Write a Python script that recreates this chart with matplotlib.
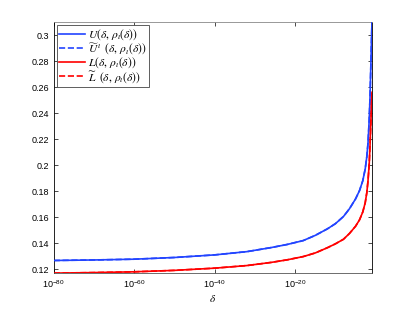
import numpy as np
from matplotlib import pyplot as plt

# -log10(delta) sample positions
neg_log_delta = [80, 70, 60, 50, 40, 32, 26, 22, 18, 15, 12, 10, 8, 6.5, 5,
                 4, 3.2, 2.6, 2.2, 1.9, 1.6, 1.4, 1.2, 1.05, 0.92]
upper = [0.1267, 0.1271, 0.1277, 0.1290, 0.1310, 0.1335, 0.1366, 0.1390,
         0.1420, 0.1460, 0.1510, 0.1550, 0.1605, 0.1665, 0.1740, 0.1805,
         0.1880, 0.1970, 0.2064, 0.2170, 0.2350, 0.2523, 0.2760, 0.2940,
         0.3100]
lower = [0.1170, 0.1174, 0.1180, 0.1191, 0.1208, 0.1228, 0.1252, 0.1272,
         0.1297, 0.1325, 0.1365, 0.1395, 0.1430, 0.1475, 0.1530, 0.1580,
         0.1640, 0.1710, 0.1788, 0.1880, 0.2010, 0.2150, 0.2320, 0.2450,
         0.2560]

y_ticks = [0.12, 0.14, 0.16, 0.18, 0.2, 0.22, 0.24, 0.26, 0.28, 0.3]
x_ticks = [1e-80, 1e-60, 1e-40, 1e-20]

labels = [r'$U(\delta,\,\rho_\iota(\delta))$',
          r'$\widetilde{U}^{\,\iota}\;\;(\delta,\,\rho_\iota(\delta))$',
          r'$L(\delta,\,\rho_\iota(\delta))$',
          r'$\widetilde{L}\;\;(\delta,\,\rho_\iota(\delta))$']

plt.rcParams['font.family'] = ['Liberation Sans', 'DejaVu Sans']
plt.rcParams['mathtext.fontset'] = 'stix'

delta = np.power(10.0, -np.array(neg_log_delta))

fig = plt.figure(figsize=(4.11, 3.09), dpi=100)
ax = fig.add_axes([0.1307, 0.1149, 0.7743, 0.8139])

blue = '#2244ff'
red = '#ff0000'
l1, = ax.plot(delta, upper, color=blue, linewidth=1.2, zorder=3)
l2, = ax.plot(delta, upper, color=blue, linewidth=1.2, linestyle='--', zorder=2)
l3, = ax.plot(delta, lower, color=red, linewidth=1.2, zorder=3)
l4, = ax.plot(delta, lower, color=red, linewidth=1.2, linestyle='--', zorder=2)

ax.set_xscale('log')
ax.set_xlim(1e-80, 10 ** -0.92)
ax.set_ylim(0.1167, 0.31)
ax.set_xticks(x_ticks)
ax.set_yticks(y_ticks)
ax.set_yticklabels(['0.12', '0.14', '0.16', '0.18', '0.2', '0.22', '0.24',
                    '0.26', '0.28', '0.3'])
ax.minorticks_off()
ax.tick_params(direction='in', labelsize=6.5, length=3, width=0.5,
               top=True, right=True)
for s in ax.spines.values():
    s.set_linewidth(0.6)
ax.spines['top'].set_color('#888888')
ax.spines['bottom'].set_color('#555555')
ax.set_xlabel(r'$\delta$', fontsize=8, labelpad=2)

leg = ax.legend([l1, l2, l3, l4], labels, loc='upper left', fontsize=8.3,
                fancybox=False, framealpha=1, borderaxespad=0.3,
                handlelength=2.2, labelspacing=-0.1, borderpad=0.2,
                handletextpad=0.3)
leg.get_frame().set_edgecolor('#444444')
leg.get_frame().set_linewidth(0.6)

fig.savefig('out.png', dpi=100)
